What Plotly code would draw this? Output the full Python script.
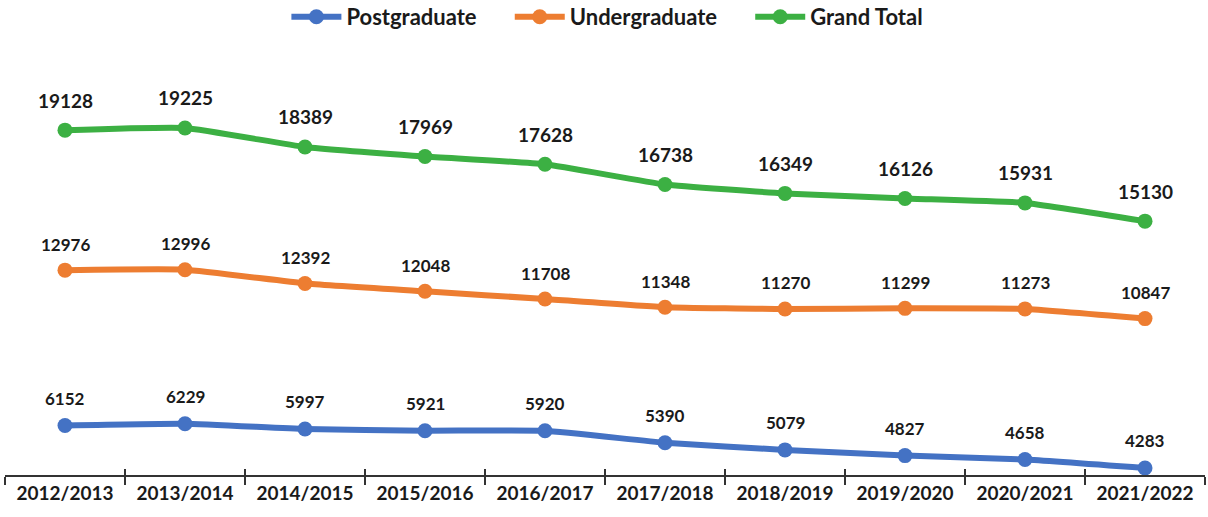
import plotly.graph_objects as go

years = ['2012/2013', '2013/2014', '2014/2015', '2015/2016', '2016/2017',
         '2017/2018', '2018/2019', '2019/2020', '2020/2021', '2021/2022']
postgrad = [6152, 6229, 5997, 5921, 5920, 5390, 5079, 4827, 4658, 4283]
undergrad = [12976, 12996, 12392, 12048, 11708, 11348, 11270, 11299, 11273, 10847]
grand_total = [19128, 19225, 18389, 17969, 17628, 16738, 16349, 16126, 15931, 15130]

series = [('Postgraduate', postgrad, '#4472c4', 17, 27, 5),
          ('Undergraduate', undergrad, '#ed7d31', 17, 26, 5),
          ('Grand Total', grand_total, '#3cb043', 19, 30, 0)]

fig = go.Figure()
annots = []
for name, vals, col, fs, dy, pad in series:
    fig.add_trace(go.Scatter(x=years, y=vals, name='<b>' + name + '</b>' + '&nbsp;' * pad,
                             mode='lines+markers',
                             line=dict(color=col, width=6, shape='spline', smoothing=0.4),
                             marker=dict(color=col, size=15)))
    for x, v in zip(years, vals):
        annots.append(dict(x=x, y=v, text='<b>%d</b>' % v, showarrow=False,
                           yshift=dy, font=dict(size=fs, color='#1a1a1a')))

# second x axis only to get ticks crossing the axis line
fig.add_trace(go.Scatter(x=years, y=[None]*len(years), xaxis='x2', showlegend=False,
                         hoverinfo='skip'))

fig.update_layout(
    width=1208, height=517,
    margin=dict(l=5, r=3, t=40, b=42, autoexpand=False),
    plot_bgcolor='white', paper_bgcolor='white',
    font=dict(family='Lato, Open Sans, sans-serif', color='#1a1a1a'),
    annotations=annots,
    legend=dict(orientation='h', x=0.502, xanchor='center', y=1.053, yanchor='middle',
                font=dict(size=22, family='Lato'), itemwidth=50,
                traceorder='normal'),
    xaxis=dict(type='category', range=[-0.5, 9.5], showline=True, linecolor='#333',
               linewidth=1.5, ticks='outside', ticklen=8, tickwidth=1.5, tickcolor='#333',
               tickson='boundaries', showgrid=False, automargin=False,
               tickfont=dict(size=19, family='Lato', color='#1a1a1a'),
               tickprefix='<b>', ticksuffix='</b>'),
    xaxis2=dict(type='category', overlaying='x', matches='x', side='bottom',
                anchor='y', ticks='inside', ticklen=6, tickwidth=1.5,
                tickcolor='#333', tickson='boundaries', showticklabels=False,
                showgrid=False, automargin=False),
    yaxis=dict(range=[3975, 23090], visible=False, showgrid=False, automargin=False),
)

fig.write_html('out.html', config={'displayModeBar': False},
               post_script="document.body.style.margin='0';document.body.style.overflow='hidden';")
